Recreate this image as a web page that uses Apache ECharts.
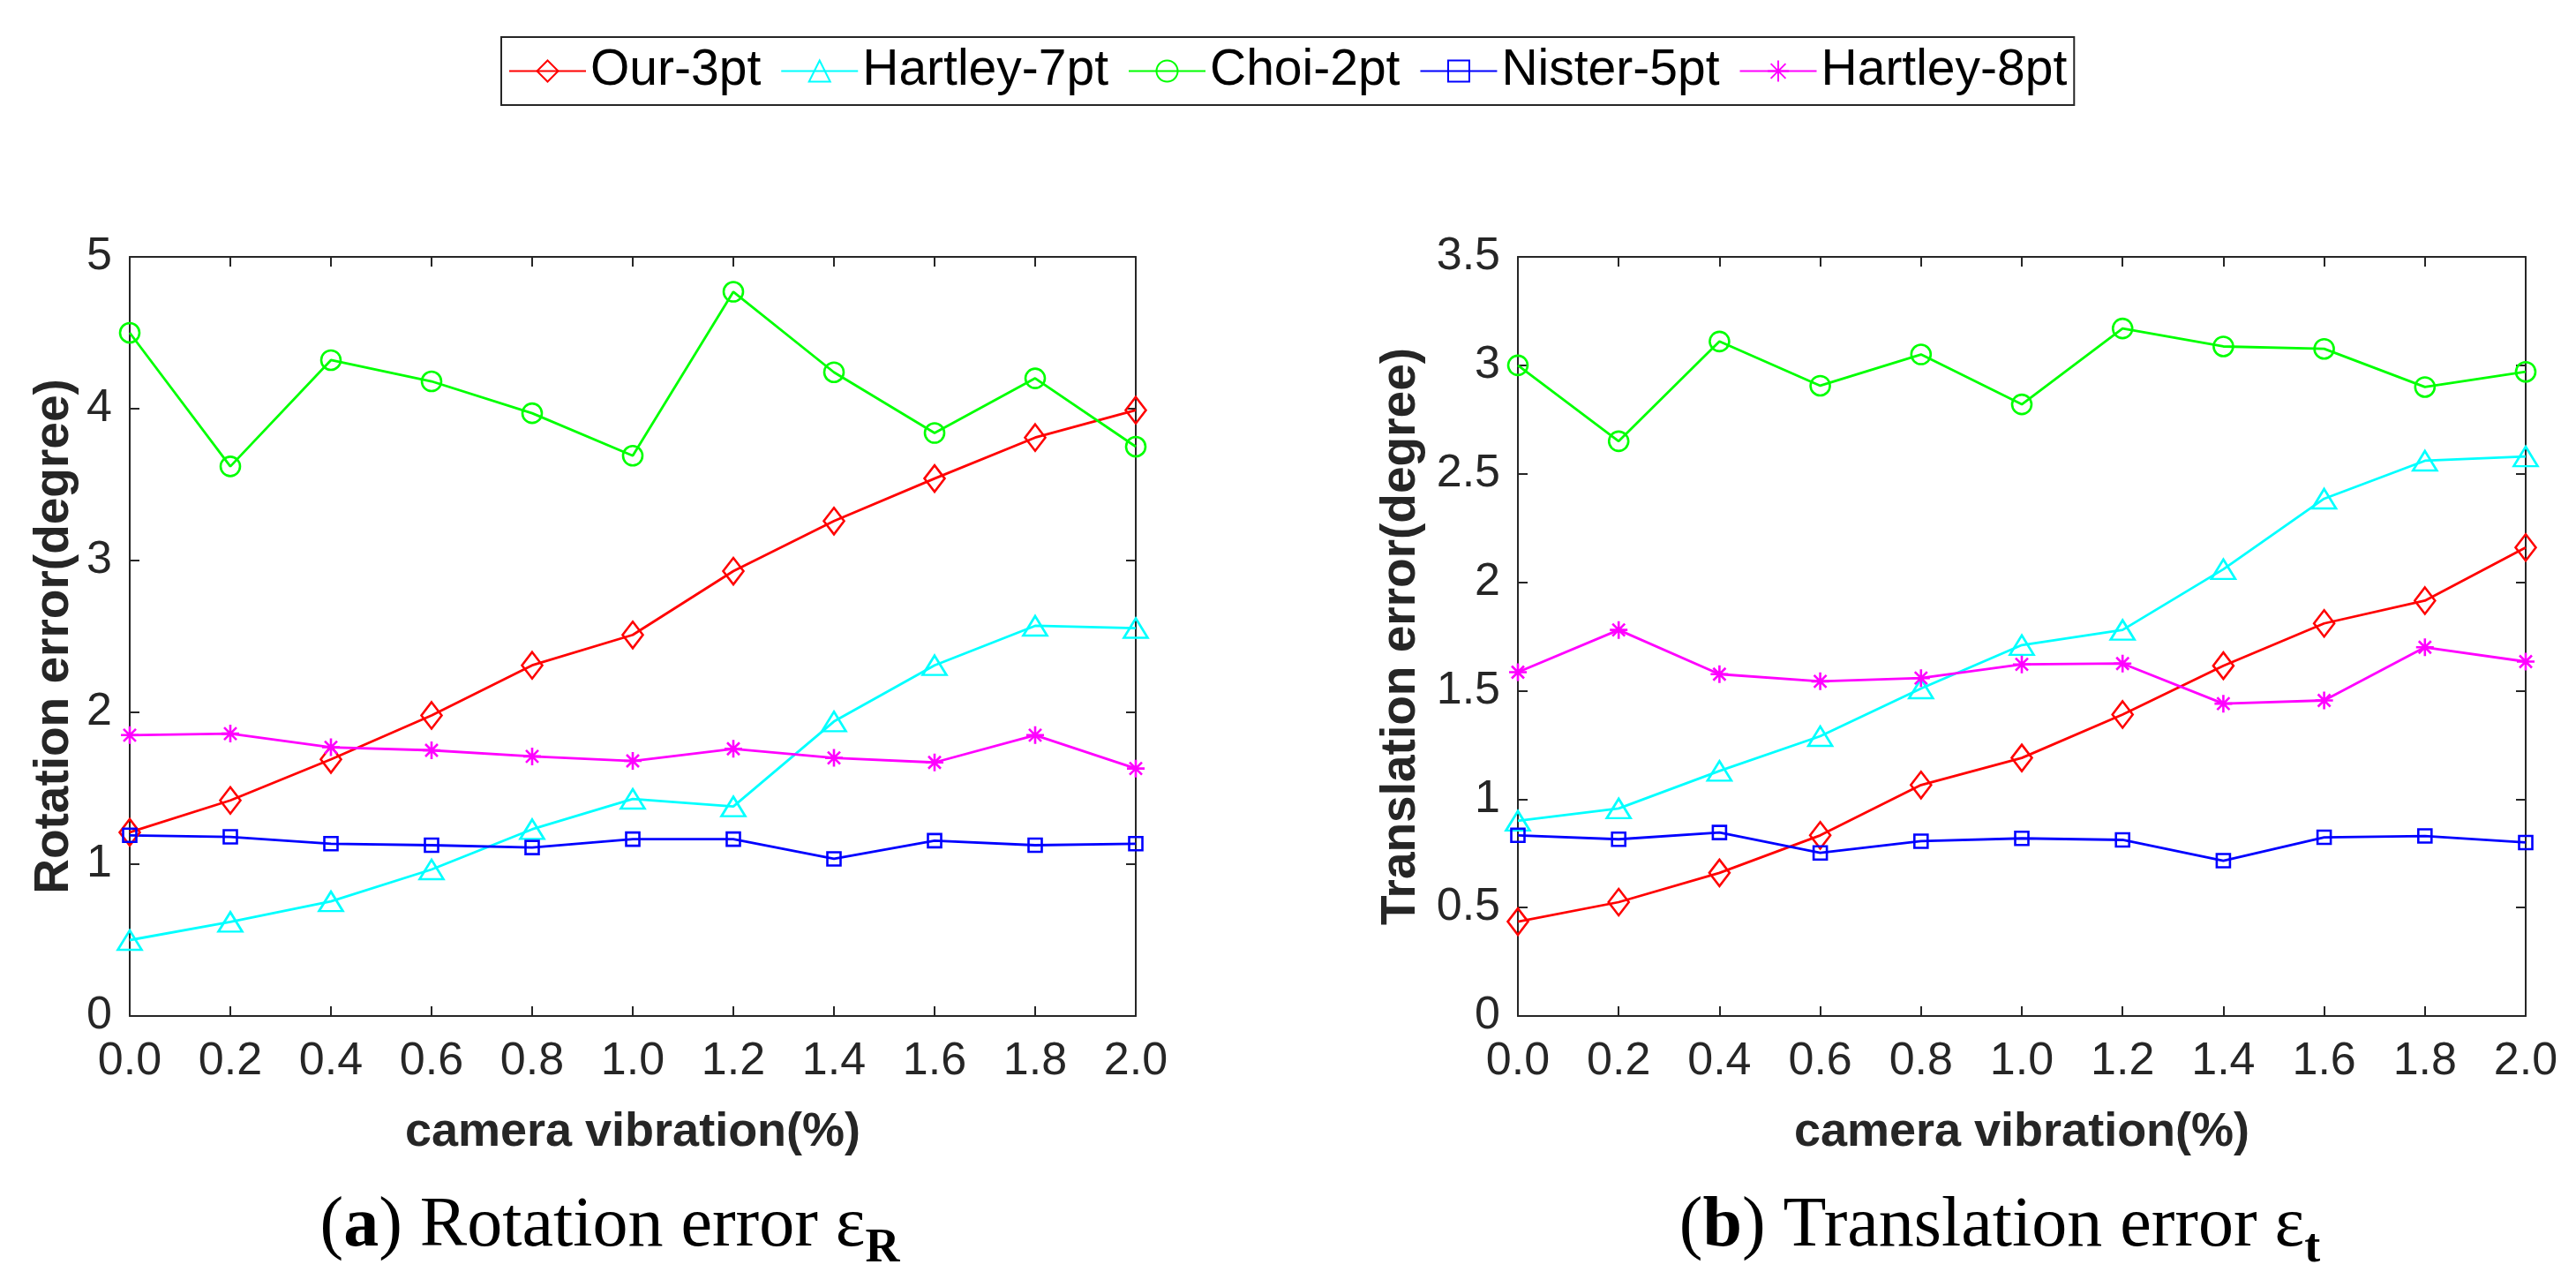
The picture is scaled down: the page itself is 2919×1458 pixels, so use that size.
<!DOCTYPE html>
<html>
<head>
<meta charset="utf-8">
<script src="https://cdn.jsdelivr.net/npm/echarts@6/dist/echarts.min.js"></script>
<style>
  html, body { margin: 0; padding: 0; background: #fff; }
  #chart { width: 2919px; height: 1458px; }
</style>
</head>
<body>
<div id="chart"></div>
<script>
// x values (camera vibration %)
const vibration = [0.0, 0.2, 0.4, 0.6, 0.8, 1.0, 1.2, 1.4, 1.6, 1.8, 2.0];

const methods = ['Our-3pt', 'Hartley-7pt', 'Choi-2pt', 'Nister-5pt', 'Hartley-8pt'];

// (a) rotation error, degree
const rotOur     = [1.21, 1.42, 1.69, 1.98, 2.31, 2.51, 2.93, 3.26, 3.54, 3.81, 3.99];
const rotH7      = [0.50, 0.62, 0.755, 0.965, 1.23, 1.43, 1.38, 1.94, 2.31, 2.57, 2.555];
const rotChoi    = [4.50, 3.62, 4.32, 4.18, 3.97, 3.69, 4.77, 4.24, 3.84, 4.20, 3.75];
const rotNister  = [1.19, 1.18, 1.135, 1.125, 1.11, 1.165, 1.165, 1.035, 1.155, 1.125, 1.135];
const rotH8      = [1.85, 1.86, 1.77, 1.75, 1.71, 1.68, 1.76, 1.70, 1.67, 1.85, 1.63];

// (b) translation error, degree
const transOur    = [0.435, 0.525, 0.66, 0.833, 1.065, 1.19, 1.39, 1.615, 1.81, 1.915, 2.16];
const transH7     = [0.90, 0.957, 1.13, 1.29, 1.51, 1.71, 1.78, 2.06, 2.385, 2.56, 2.58];
const transChoi   = [3.00, 2.65, 3.11, 2.906, 3.05, 2.82, 3.17, 3.087, 3.076, 2.90, 2.97];
const transNister = [0.833, 0.815, 0.846, 0.752, 0.806, 0.819, 0.812, 0.716, 0.824, 0.83, 0.80];
const transH8     = [1.585, 1.78, 1.576, 1.543, 1.558, 1.621, 1.625, 1.44, 1.455, 1.70, 1.634];

const rotData = [rotOur, rotH7, rotChoi, rotNister, rotH8];
const transData = [transOur, transH7, transChoi, transNister, transH8];

// marker look per method (matlab style hollow markers)
const colors = ['#ff0000', '#00ffff', '#00ff00', '#0000ff', '#ff00ff'];
const symbols = [
  'diamond',
  'triangle',
  'circle',
  'rect',
  'path://M10,0L10,20M0,10L20,10M3,3L17,17M3,17L17,3'
];
const symbolSizes = [[23, 30], [27, 22], 22, 15, 20];

const axisColor = '#262626';
const sans = '"Liberation Sans", Arial, Helvetica, sans-serif';
const serif = '"Liberation Serif", "Times New Roman", serif';

const pairs = (ys) => ys.map((y, i) => [vibration[i], y]);

const makeSeries = (data, axisIdx) => data.map((ys, k) => ({
  name: methods[k],
  type: 'line',
  xAxisIndex: axisIdx,
  yAxisIndex: axisIdx,
  data: pairs(ys),
  symbol: symbols[k],
  symbolSize: symbolSizes[k],
  showAllSymbol: true,
  lineStyle: { color: colors[k], width: 2.8 },
  itemStyle: { color: 'transparent', borderColor: colors[k], borderWidth: 2.6 },
  emphasis: { disabled: true }
}));

const xAxisBase = (grid, top) => ({
  type: 'value',
  gridIndex: grid,
  position: top ? 'top' : 'bottom',
  min: 0, max: 2, interval: 0.2,
  axisLine: { show: true, onZero: false, lineStyle: { color: axisColor, width: 2 } },
  axisTick: { show: true, inside: true, length: 11, lineStyle: { color: axisColor, width: 2 } },
  splitLine: { show: false },
  axisLabel: {
    show: !top, margin: 26, fontSize: 52, fontFamily: sans, color: axisColor,
    formatter: (v) => v.toFixed(1)
  },
  name: top ? '' : 'camera vibration(%)',
  nameLocation: 'middle',
  nameGap: 105,
  nameTextStyle: { fontSize: 54, fontWeight: 'bold', fontFamily: sans, color: axisColor }
});

const yAxisBase = (grid, right, max, interval, name, gap) => ({
  type: 'value',
  gridIndex: grid,
  position: right ? 'right' : 'left',
  min: 0, max: max, interval: interval,
  axisLine: { show: true, onZero: false, lineStyle: { color: axisColor, width: 2 } },
  axisTick: { show: true, inside: true, length: 11, lineStyle: { color: axisColor, width: 2 } },
  splitLine: { show: false },
  axisLabel: { show: !right, margin: 20, fontSize: 52, fontFamily: sans, color: axisColor },
  name: right ? '' : name,
  nameLocation: 'middle',
  nameGap: gap,
  nameTextStyle: { fontSize: 55, fontWeight: 'bold', fontFamily: sans, color: axisColor }
});

// caption: main text lifted by bottom padding so the last token sits as a subscript
const captionRich = {
  n: { fontSize: 80, fontFamily: serif, verticalAlign: 'bottom', padding: [0, 0, 12, 0], fill: '#000' },
  b: { fontSize: 80, fontFamily: serif, fontWeight: 'bold', verticalAlign: 'bottom', padding: [0, 0, 12, 0], fill: '#000' },
  s: { fontSize: 54, fontFamily: serif, fontWeight: 'bold', verticalAlign: 'bottom', fill: '#000' }
};

const option = {
  animation: false,
  backgroundColor: '#fff',
  legend: {
    data: methods,
    left: 568,
    top: 42,
    orient: 'horizontal',
    itemWidth: 87,
    itemHeight: 30,
    itemGap: 22,
    padding: [10, 8, 10, 8],
    borderColor: axisColor,
    borderWidth: 2,
    textStyle: { fontSize: 57, fontFamily: sans, color: '#000' }
  },
  grid: [
    { left: 147, top: 291, width: 1140, height: 860 },
    { left: 1720, top: 291, width: 1142, height: 860 }
  ],
  xAxis: [
    xAxisBase(0, false),
    xAxisBase(0, true),
    xAxisBase(1, false),
    xAxisBase(1, true)
  ],
  yAxis: [
    yAxisBase(0, false, 5, 1, 'Rotation error(degree)', 58),
    yAxisBase(0, true, 5, 1, '', 58),
    yAxisBase(1, false, 3.5, 0.5, 'Translation error(degree)', 105),
    yAxisBase(1, true, 3.5, 0.5, '', 105)
  ],
  series: [].concat(makeSeries(rotData, 0), makeSeries(transData, 2)),
  graphic: [
    {
      type: 'text', x: 691, y: 1442,
      style: {
        text: '{n|(}{b|a}{n|) Rotation error ε}{s|R}',
        rich: captionRich, align: 'center', verticalAlign: 'bottom'
      }
    },
    {
      type: 'text', x: 2266, y: 1442,
      style: {
        text: '{n|(}{b|b}{n|) Translation error ε}{s|t}',
        rich: captionRich, align: 'center', verticalAlign: 'bottom'
      }
    }
  ]
};

const myChart = echarts.init(document.getElementById('chart'));
myChart.setOption(option);
window.addEventListener('resize', () => {
  myChart.resize();
});
</script>
</body>
</html>
